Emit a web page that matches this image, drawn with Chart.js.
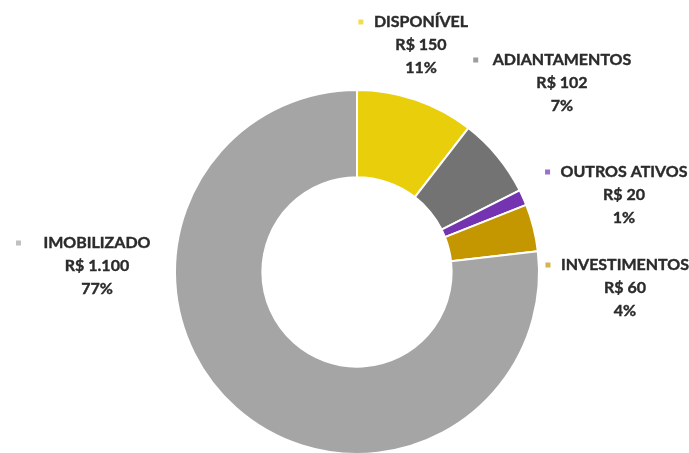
<!DOCTYPE html>
<html>
<head>
<meta charset="utf-8">
<script src="https://cdn.jsdelivr.net/npm/chart.js@4/dist/chart.umd.min.js"></script>
<style>
  html, body { margin: 0; padding: 0; background: #fff; overflow: hidden; }
  #wrap { width: 689px; height: 460px; }
</style>
</head>
<body>
<div id="wrap"><canvas id="c" width="689" height="460"></canvas></div>
<script>
// Composição do ativo (R$ mil)
const categories = ['DISPONÍVEL', 'ADIANTAMENTOS', 'OUTROS ATIVOS', 'INVESTIMENTOS', 'IMOBILIZADO'];
const values = [150, 102, 20, 60, 1100];
const valueLabels = ['R$ 150', 'R$ 102', 'R$ 20', 'R$ 60', 'R$ 1.100'];
const percentLabels = ['11%', '7%', '1%', '4%', '77%'];
const colors = ['#E9CE0C', '#737373', '#7433B0', '#C49600', '#A5A5A5'];

// Label placement relative to the doughnut centre (first text line centre)
const labelLayout = [
  { dx: 64,   dy: -250, markerGap: 13 },
  { dx: 205,  dy: -212, markerGap: 17 },
  { dx: 267,  dy: -100, markerGap: 13 },
  { dx: 268,  dy: -7,   markerGap: 13 },
  { dx: -260, dy: -29,  markerGap: 25 }
];

const outsideLabels = {
  id: 'outsideLabels',
  afterDraw(chart) {
    const meta = chart.getDatasetMeta(0);
    const ctx = chart.ctx;
    const cx = meta.data[0].x, cy = meta.data[0].y;
    const lineH = 23;
    ctx.save();
    ctx.font = 'bold 16px Lato, "Open Sans", sans-serif';
    ctx.textAlign = 'center';
    ctx.textBaseline = 'middle';
    categories.forEach((name, i) => {
      const L = labelLayout[i];
      const x = cx + L.dx, y = cy + L.dy;
      const lines = [name, valueLabels[i], percentLabels[i]];
      ctx.fillStyle = '#2b2b2b';
      ctx.strokeStyle = '#2b2b2b';
      ctx.lineWidth = 0.4;
      lines.forEach((t, k) => {
        ctx.fillText(t, x, y + k * lineH);
        ctx.strokeText(t, x, y + k * lineH);
      });
      const w = ctx.measureText(name).width;
      const mx = x - w / 2 - L.markerGap;
      ctx.fillStyle = colors[i];
      ctx.globalAlpha = 0.7;
      ctx.fillRect(mx - 2.5, y - 2.5, 5, 5);
      ctx.globalAlpha = 1;
    });
    ctx.restore();
  }
};

new Chart(document.getElementById('c'), {
  type: 'doughnut',
  data: {
    labels: categories,
    datasets: [{
      data: values,
      backgroundColor: colors,
      borderColor: '#ffffff',
      borderWidth: 2,
      hoverBorderWidth: 2,
      hoverOffset: 0,
      offset: 0
    }]
  },
  options: {
    responsive: false,
    animation: false,
    cutout: '52%',
    rotation: 0,
    layout: { padding: { left: 174, top: 89, right: 149, bottom: 5 } },
    plugins: {
      legend: { display: false },
      tooltip: { enabled: false }
    }
  },
  plugins: [outsideLabels]
});
</script>
</body>
</html>
